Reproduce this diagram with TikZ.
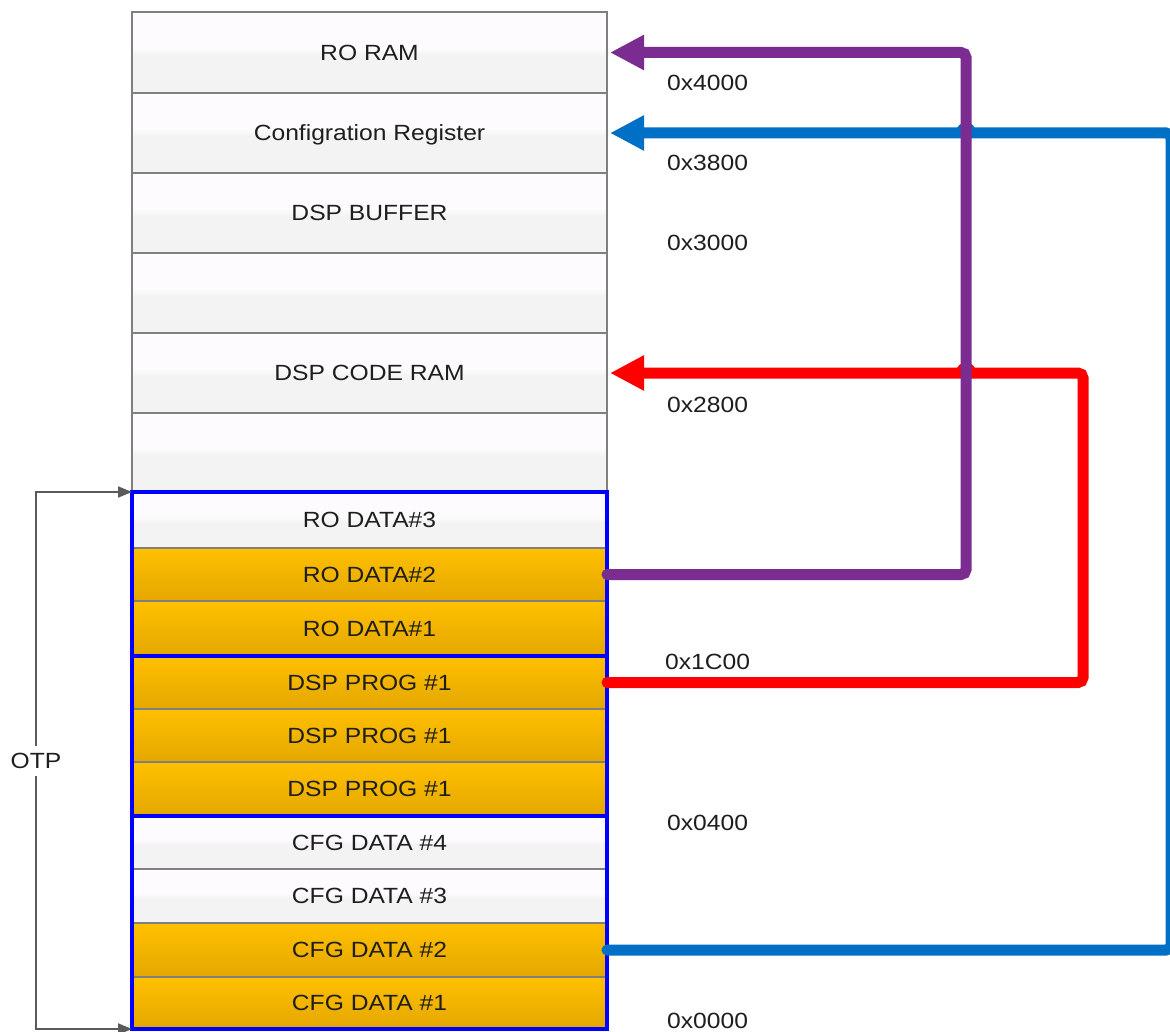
\documentclass[tikz,border=0pt]{standalone}
\usepackage{fontspec}
\setmainfont{Liberation Sans}
\usetikzlibrary{arrows.meta,calc,fit}
\definecolor{wtop}{HTML}{FEFBFE}
\definecolor{wbot}{HTML}{F3F3F4}
\definecolor{otop}{HTML}{FFC000}
\definecolor{obot}{HTML}{E4A700}
\definecolor{rowline}{HTML}{7F7F7F}
\definecolor{framebl}{HTML}{0000FF}
\definecolor{cpurple}{HTML}{7B2C91}
\definecolor{cblue}{HTML}{0070C6}
\definecolor{cred}{HTML}{FF0000}
\definecolor{txt}{HTML}{1E1E1E}
\definecolor{otpgray}{HTML}{5A5A5A}
\pgfdeclareverticalshading{wband}{100bp}{color(0bp)=(wbot); color(48bp)=(wbot); color(53bp)=(wtop); color(100bp)=(wtop)}
\newcommand{\sx}[1]{\scalebox{1.12}[1]{#1}}
\tikzset{
  memrow/.style={draw=rowline, line width=1.2pt, minimum width=475pt, inner sep=0pt, outer sep=0pt,
    text=txt, font=\fontsize{22}{26}\selectfont, text height=15.8pt, text depth=0pt, anchor=north west},
  wrow/.style={memrow, shading=wband},
  orow/.style={memrow, top color=otop, bottom color=obot},
  grp/.style={draw=framebl, line width=3.6pt, inner sep=0pt, outer sep=0pt},
  addr/.style={anchor=west, inner sep=0pt, text=txt, font=\fontsize{22}{26}\selectfont, text height=15.8pt, text depth=0pt},
  conn/.style={draw=#1, line width=11pt, line cap=round, rounded corners=5pt,
    -{Triangle[length=34pt,width=33pt]}},
  otparrow/.style={draw=otpgray, line width=2pt, -{Triangle[length=14pt,width=11pt]}}
}
\begin{document}
\begin{tikzpicture}[x=1pt,y=-1pt]
\clip (0,0) rectangle (1170,1032);
\fill[white] (0,0) rectangle (1170,1032);

% memory rows
\node[wrow, minimum height=81pt] (r1) at (132,12) {\sx{RO RAM}};
\node[wrow, minimum height=80pt] (r2) at (132,93) {\sx{Configration Register}};
\node[wrow, minimum height=80pt] (r3) at (132,173) {\sx{DSP BUFFER}};
\node[wrow, minimum height=80pt] (r4) at (132,253) {};
\node[wrow, minimum height=80pt] (r5) at (132,333) {\sx{DSP CODE RAM}};
\node[wrow, minimum height=79pt] (r6) at (132,413) {};
\node[wrow, minimum height=56pt] (r7) at (132,492) {\sx{RO DATA\#3}};
\node[orow, minimum height=53pt] (r8) at (132,548) {\sx{RO DATA\#2}};
\node[orow, minimum height=55pt] (r9) at (132,601) {\sx{RO DATA\#1}};
\node[orow, minimum height=53pt] (r10) at (132,656) {\sx{DSP PROG \#1}};
\node[orow, minimum height=53pt] (r11) at (132,709) {\sx{DSP PROG \#1}};
\node[orow, minimum height=54pt] (r12) at (132,762) {\sx{DSP PROG \#1}};
\node[wrow, minimum height=53pt] (r13) at (132,816) {\sx{CFG DATA \#4}};
\node[wrow, minimum height=54pt] (r14) at (132,869) {\sx{CFG DATA \#3}};
\node[orow, minimum height=54pt] (r15) at (132,923) {\sx{CFG DATA \#2}};
\node[orow, minimum height=52pt] (r16) at (132,977) {\sx{CFG DATA \#1}};

% OTP group frames
\node[grp, fit=(r7)(r9)] (g1) {};
\node[grp, fit=(r10)(r12)] (g2) {};
\node[grp, fit=(r13)(r16)] (g3) {};

% address labels
\node[addr] (a4000) at (667,83) {\sx{0x4000}};
\node[addr] (a3800) at (667,163) {\sx{0x3800}};
\node[addr] (a3000) at (667,243) {\sx{0x3000}};
\node[addr] (a2800) at (667,405) {\sx{0x2800}};
\node[addr] (a1C00) at (665,662) {\sx{0x1C00}};
\node[addr] (a0400) at (667,823) {\sx{0x0400}};
\node[addr] (a0000) at (667,1021) {\sx{0x0000}};

% connector x positions
\coordinate (pv) at (966,0);
\coordinate (rv) at (1083,0);
\coordinate (bv) at (1171,0);

% blue and red connectors (drawn beneath purple)
\draw[conn=cblue] (r15.east) -| (bv |- r2.east) -- ($(r2.east)+(3,0)$);
\draw[conn=cred] (r10.east) -| (rv |- r5.east) -- ($(r5.east)+(3,0)$);

% line hops where they cross the purple connector
\coordinate (xb) at (pv |- r2.east);
\coordinate (xr) at (pv |- r5.east);
\fill[cblue] ($(xb)+(-10,0)$) .. controls ($(xb)+(-10,-14)$) and ($(xb)+(10,-14)$) .. ($(xb)+(10,0)$) -- cycle;
\fill[cred] ($(xr)+(-10,0)$) .. controls ($(xr)+(-10,-14)$) and ($(xr)+(10,-14)$) .. ($(xr)+(10,0)$) -- cycle;

% purple connector
\draw[conn=cpurple] (r8.east) -| (pv |- r1.east) -- ($(r1.east)+(3,0)$);

% OTP bracket
\node[fill=white, inner xsep=1pt, inner ysep=7pt, text=txt, font=\fontsize{22}{26}\selectfont, text height=15.8pt, text depth=0pt] (otp) at (36,761) {\sx{OTP}};
\draw[otparrow] (otp.north) |- (g1.north west);
\draw[otparrow] (otp.south) |- (g3.south west);
\end{tikzpicture}
\end{document}
